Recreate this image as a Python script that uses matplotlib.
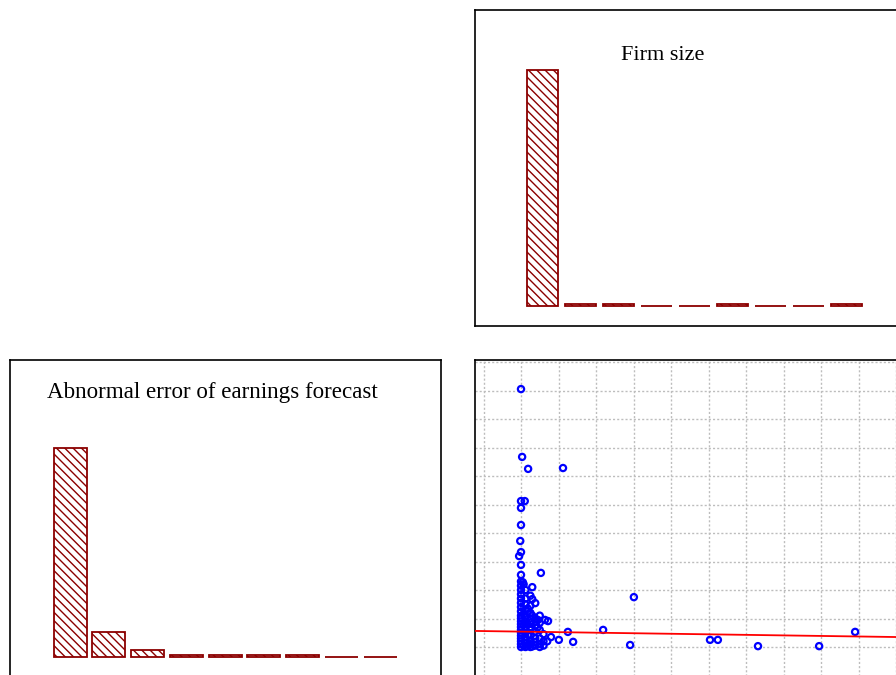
import numpy as np
import matplotlib
matplotlib.use("Agg")
import matplotlib.pyplot as plt

# Histogram counts (nine bins each)
firm_size_counts = [412, 4, 4, 0, 0, 4, 0, 0, 4]
abnormal_error_counts = [364, 43, 12, 4, 4, 4, 4, 0, 0]

# Scatter: abnormal error (y) against firm size (x), in grid units
scatter_x = [
    0.00, 0.03, 0.19, 1.12, 0.00, 0.10, 0.00, 0.00, -0.02, -0.05, 0.00, 0.00, 0.53, 0.00,
    2.19, 3.01, 1.25, 1.01, 1.39, 0.72, 0.64, 2.91, 5.04, 5.25, 6.32, 7.95, 8.91, 0.70,
    0.05, 0.40, 0.30, 0.80,
    # dense cluster near the origin
    0.00, 0.00, 0.00, 0.00, 0.00, 0.00, 0.00, 0.00, 0.00, 0.00, 0.00, 0.00, 0.00, 0.00,
    0.00, 0.00, 0.00, 0.00, 0.00, 0.00,
    0.12, 0.12, 0.12, 0.12, 0.12, 0.12, 0.12, 0.12, 0.12, 0.12, 0.12, 0.12, 0.12,
    0.25, 0.25, 0.25, 0.25, 0.25, 0.25, 0.25, 0.25, 0.25, 0.25, 0.25,
    0.38, 0.38, 0.38, 0.38, 0.38, 0.38, 0.38, 0.19,
    0.50, 0.50, 0.50, 0.50, 0.50, 0.50,
    0.60, 0.60, 0.60, 0.07, 0.30, 0.45, 0.18, 0.07, 0.18, 0.30,
    0.07, 0.18, 0.30, 0.44, 0.07, 0.18,
]
scatter_y = [
    9.05, 6.67, 6.25, 6.28, 5.12, 5.12, 4.88, 4.28, 3.72, 3.19, 3.33, 2.88, 2.60, 2.53,
    0.60, 1.75, 0.53, 0.25, 0.18, 0.91, 0.95, 0.07, 0.25, 0.25, 0.03, 0.03, 0.53, 0.20,
    2.27, 0.88, 1.68, 0.35,
    0.00, 0.10, 0.20, 0.30, 0.40, 0.50, 0.60, 0.70, 0.80, 0.90, 1.00, 1.10, 1.25, 1.40,
    1.55, 1.70, 1.85, 2.00, 2.15, 2.30,
    0.00, 0.15, 0.35, 0.50, 0.70, 0.90, 1.05, 1.30, 1.50, 1.70, 2.00, 0.25, 0.60,
    0.00, 0.20, 0.40, 0.60, 0.85, 1.00, 1.20, 1.45, 1.80, 0.10, 0.70,
    0.05, 0.30, 0.55, 0.75, 1.00, 1.54, 0.18, 0.42,
    0.10, 0.30, 0.60, 0.85, 1.10, 0.00,
    0.20, 0.45, 0.05, 2.20, 2.10, 0.95, 1.25, 0.05, 0.08, 0.02,
    1.15, 1.35, 1.10, 0.68, 0.78, 0.80,
]

# Fitted line
fit_intercept = 0.54
fit_slope = -0.019

W, H = 896, 675
BAR_RED = "#8b0000"

plt.rcParams["hatch.linewidth"] = 1.0

fig = plt.figure(figsize=(W / 100, H / 100), dpi=100)
fig.patch.set_facecolor("white")


def add_box(left, top, right, bottom):
    ax = fig.add_axes([left / W, 1 - bottom / H, (right - left) / W, (bottom - top) / H])
    ax.set_xticks([])
    ax.set_yticks([])
    for s in ax.spines.values():
        s.set_color("black")
        s.set_linewidth(1.2)
    return ax


def draw_hist(ax, counts, first_px, step_px, bar_px, base_px, top_count_px, box):
    left, top, right, bottom = box
    idx = np.arange(len(counts))
    ax.bar(idx, counts, width=bar_px / step_px, color="white", edgecolor=BAR_RED,
           linewidth=1.3, hatch="\\\\\\\\")
    ax.set_xlim((left - first_px) / step_px, (right - first_px) / step_px)
    px_per = (base_px - top_count_px) / max(counts)
    ax.set_ylim(-(bottom - base_px) / px_per, (base_px - top) / px_per)


# Top right: firm size histogram
box_tr = (475, 10, 910, 326)
ax_tr = add_box(*box_tr)
draw_hist(ax_tr, firm_size_counts, 542, 38, 31, 306, 70, box_tr)
fig.text(663 / W, 1 - 60 / H, "Firm size", ha="center", va="baseline",
         family="Liberation Serif", fontsize=16)

# Bottom left: abnormal error histogram
box_bl = (10, 360, 441, 690)
ax_bl = add_box(*box_bl)
draw_hist(ax_bl, abnormal_error_counts, 70, 38.75, 33, 657, 448, box_bl)
fig.text(212 / W, 1 - 398 / H, "Abnormal error of earnings forecast", ha="center",
         va="baseline", family="Liberation Serif", fontsize=16.6)

# Bottom right: scatter with grid and fitted line
box_br = (475, 360, 910, 690)
ax_br = add_box(*box_br)
x0_px, xstep = 521, 37.5
y0_px, ystep = 647, 28.5
xlim = ((475 - x0_px) / xstep, (910 - x0_px) / xstep)
ylim = ((y0_px - 690) / ystep, (y0_px - 360) / ystep)
ax_br.set_xlim(*xlim)
ax_br.set_ylim(*ylim)
for gx in range(-1, 11):
    ax_br.axvline(gx, color="#bdbdbd", linestyle=(0, (1.5, 1.5)), linewidth=1.0, zorder=0)
for gy in range(-1, 11):
    ax_br.axhline(gy, color="#bdbdbd", linestyle=(0, (1.5, 1.5)), linewidth=1.0, zorder=0)
ax_br.scatter(scatter_x, scatter_y, s=20, facecolors="none", edgecolors="#0000ff",
              linewidths=1.6, zorder=2)
xs = np.array(xlim)
ax_br.plot(xs, fit_intercept + fit_slope * xs, color="#ff0000", linewidth=1.3, zorder=3)

fig.savefig("out.png", dpi=100)
